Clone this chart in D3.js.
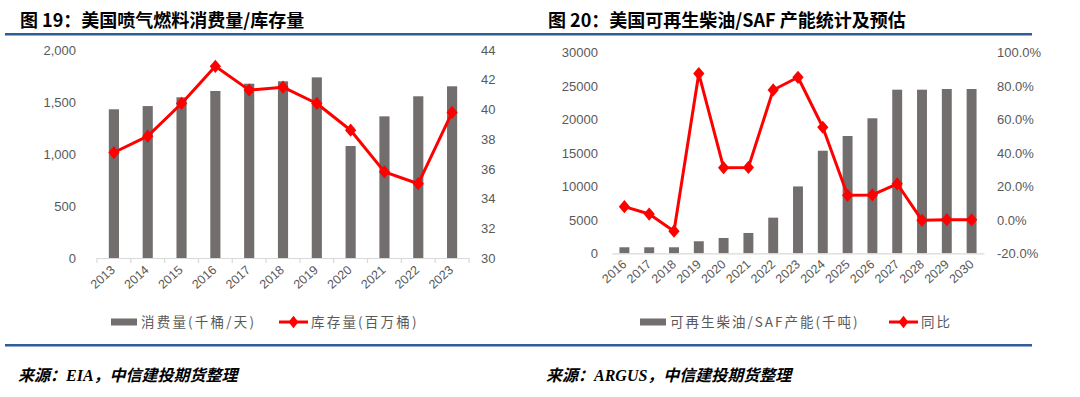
<!DOCTYPE html>
<html><head><meta charset="utf-8">
<script src="https://cdn.jsdelivr.net/npm/d3@7"></script>
<style>body{margin:0;background:#fff}svg{display:block}</style>
</head><body>
<script>
// ---- Chart 19 data ----
const years1 = ["2013","2014","2015","2016","2017","2018","2019","2020","2021","2022","2023"];
const consumption = [1430,1461,1545,1606,1676,1699,1737,1077,1362,1555,1651];
const inventory = [37.1,38.2,40.4,42.9,41.3,41.5,40.4,38.6,35.8,35.0,39.8];
const leftTicks1 = [0,500,1000,1500,2000];
const rightTicks1 = [30,32,34,36,38,40,42,44];
// ---- Chart 20 data ----
const years2 = ["2016","2017","2018","2019","2020","2021","2022","2023","2024","2025","2026","2027","2028","2029","2030"];
const capacity = [900,900,900,1800,2290,3040,5330,10000,15340,17540,20190,24470,24470,24570,24570];
const yoy = [7.9,3.5,-6.8,87.5,31.2,31.4,77.7,85.3,55.4,14.7,14.9,21.6,-0.3,0.1,0.0];
const leftTicks2 = [0,5000,10000,15000,20000,25000,30000];
const rightTicks2 = [-20,0,20,40,60,80,100];

const W = 1080, H = 397;
const BAR = "#726e6d", RED = "#ff0000", BLUE = "#2f5d96", TXT = "#595959", AX = "#d9d9d9";
const CJK = "'Noto Sans CJK SC','Noto Sans',sans-serif";
const NUM = "'Liberation Sans','Noto Sans CJK SC',sans-serif";

const svg = d3.select("body").append("svg").attr("width", W).attr("height", H);

function panel(o) {
  const g = svg.append("g");
  // title
  g.append("text").attr("x", o.titleX).attr("y", 27).text(o.title)
    .attr("font-family", CJK).attr("font-weight", "bold").attr("font-size", 18).attr("fill", "#000");
  g.append("rect").attr("x", o.ruleX0).attr("y", 33).attr("width", o.ruleX1 - o.ruleX0).attr("height", 2.5).attr("fill", BLUE);
  g.append("rect").attr("x", o.ruleX0).attr("y", 344).attr("width", o.ruleX1 - o.ruleX0).attr("height", 2.5).attr("fill", BLUE);
  // source
  g.append("text").attr("x", o.titleX - 2).attr("y", 381).text(o.source)
    .attr("font-family", "'Liberation Serif','Noto Sans CJK SC',serif").attr("font-weight", "bold")
    .attr("font-style", "italic").attr("font-size", 16).attr("fill", "#000");

  const x = d3.scaleBand().domain(o.cats).range([o.x0, o.x1]).paddingInner(o.pad).paddingOuter(o.pad / 2);
  const xc = d3.scaleBand().domain(o.cats).range([o.x0, o.x1]);
  const yl = d3.scaleLinear().domain(d3.extent(o.lt)).range([o.yb, o.yt]);
  const yr = d3.scaleLinear().domain(d3.extent(o.rt)).range([o.yb, o.yt]);

  // left axis labels
  const la = g.append("g").attr("transform", `translate(${o.lx},0)`)
    .call(d3.axisLeft(yl).tickValues(o.lt).tickSize(0).tickPadding(0).tickFormat(o.lf));
  la.select(".domain").remove();
  la.selectAll("text").attr("font-family", NUM).attr("font-size", 13).attr("fill", TXT);
  const ra = g.append("g").attr("transform", `translate(${o.rx},0)`)
    .call(d3.axisRight(yr).tickValues(o.rt).tickSize(0).tickPadding(0).tickFormat(o.rf));
  ra.select(".domain").remove();
  ra.selectAll("text").attr("font-family", NUM).attr("font-size", 13).attr("fill", TXT);

  // bars
  g.selectAll(".bar").data(o.bars).join("rect")
    .attr("x", (d, i) => x(o.cats[i])).attr("width", x.bandwidth())
    .attr("y", d => yl(d)).attr("height", d => yl(0) - yl(d)).attr("fill", BAR);

  // x axis
  const xa = g.append("g").attr("transform", `translate(0,${o.yb})`)
    .call(d3.axisBottom(xc).tickSize(0).tickPadding(0).tickFormat(""));
  xa.select(".domain").attr("stroke", AX).attr("stroke-width", 1.2);
  if (o.ticks) {
    const bounds = o.cats.map(c => xc(c)).concat([o.x1]);
    g.selectAll(".xt").data(bounds).join("line")
      .attr("x1", d => d).attr("x2", d => d).attr("y1", o.yb).attr("y2", o.yb + 5)
      .attr("stroke", AX).attr("stroke-width", 1.2);
  }
  g.selectAll(".xl").data(o.cats).join("text")
    .attr("transform", c => `translate(${xc(c) + xc.bandwidth() / 2 + o.lxo},${o.yb + o.lyo}) rotate(-42)`)
    .attr("text-anchor", "end").attr("font-family", NUM).attr("font-size", 12.5).attr("fill", TXT).text(c => c);

  // line
  const line = d3.line().x((d, i) => xc(o.cats[i]) + xc.bandwidth() / 2).y(d => yr(d));
  g.append("path").datum(o.line).attr("d", line).attr("fill", "none")
    .attr("stroke", RED).attr("stroke-width", 3).attr("stroke-linejoin", "round");
  const sym = d3.symbol().type(d3.symbolDiamond).size(70);
  g.selectAll(".mk").data(o.line).join("path").attr("d", sym)
    .attr("transform", (d, i) => `translate(${xc(o.cats[i]) + xc.bandwidth() / 2},${yr(d)}) scale(1.25,0.85)`)
    .attr("fill", RED);

  // legend
  const ly = 322;
  g.append("rect").attr("x", o.leg[0]).attr("y", ly - 3.5).attr("width", 26).attr("height", 7).attr("fill", BAR);
  g.append("text").attr("x", o.leg[0] + 30).attr("y", ly + 5).text(o.leg1)
    .attr("font-family", CJK).attr("font-size", 13.5).attr("letter-spacing", o.ls).attr("fill", TXT);
  g.append("line").attr("x1", o.leg[1]).attr("x2", o.leg[1] + 29).attr("y1", ly).attr("y2", ly)
    .attr("stroke", RED).attr("stroke-width", 3);
  g.append("path").attr("d", sym).attr("transform", `translate(${o.leg[1] + 14.5},${ly}) scale(1.1,0.8)`).attr("fill", RED);
  g.append("text").attr("x", o.leg[1] + 32).attr("y", ly + 5).text(o.leg2)
    .attr("font-family", CJK).attr("font-size", 13.5).attr("letter-spacing", o.ls).attr("fill", TXT);
}

panel({
  title: "图 19：美国喷气燃料消费量/库存量", titleX: 20, ruleX0: 5, ruleX1: 540,
  source: "来源：EIA，中信建投期货整理",
  cats: years1, bars: consumption, line: inventory, lt: leftTicks1, rt: rightTicks1,
  lf: d3.format(","), rf: d => d,
  x0: 97, x1: 469, yt: 50, yb: 258, pad: 0.7, lx: 76, rx: 481, ticks: true, lxo: 2, lyo: 13,
  leg: [111, 279], leg1: "消费量(千桶/天)", leg2: "库存量(百万桶)", ls: 2.2
});

panel({
  title: "图 20：美国可再生柴油/SAF 产能统计及预估", titleX: 548, ruleX0: 540, ruleX1: 1032,
  source: "来源：ARGUS，中信建投期货整理",
  cats: years2, bars: capacity, line: yoy, lt: leftTicks2, rt: rightTicks2,
  lf: d => d, rf: d => d.toFixed(1) + "%",
  x0: 612, x1: 984, yt: 52.7, yb: 253.3, pad: 0.6, lx: 598, rx: 997, ticks: false, lxo: 3, lyo: 12,
  leg: [640, 889], leg1: "可再生柴油/SAF产能(千吨)", leg2: "同比", ls: 2
});
</script>
</body></html>
